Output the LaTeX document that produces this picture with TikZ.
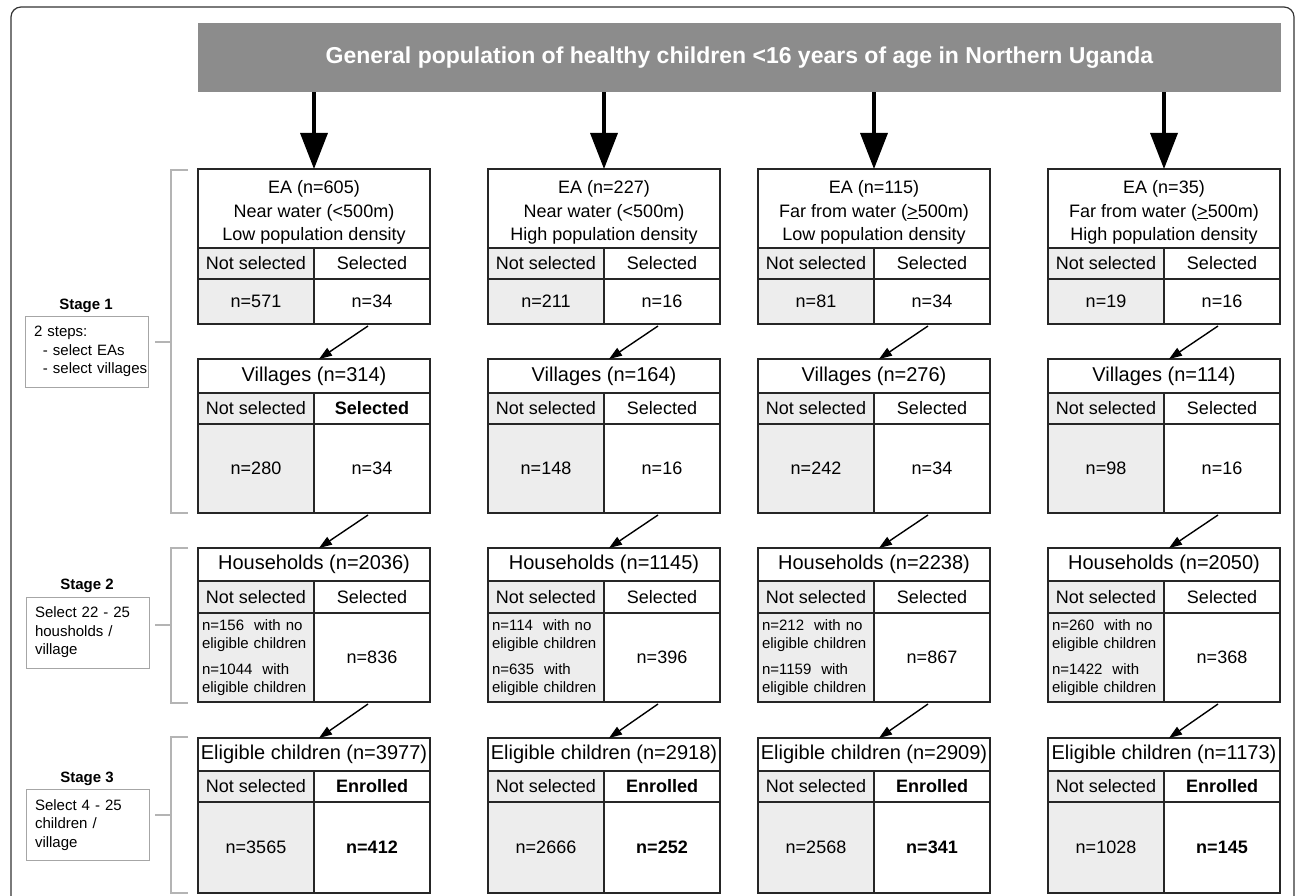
\documentclass[tikz,border=0pt]{standalone}
\usepackage{fontspec}
\setmainfont{Liberation Sans}
\usetikzlibrary{arrows.meta}
\definecolor{barfill}{HTML}{8C8C8C}
\definecolor{nsfill}{HTML}{EDEDED}
\definecolor{brk}{HTML}{B4B4B4}

\begin{document}
\begin{tikzpicture}[x=1pt, y=-1pt,
    box/.style={draw=black!85, line width=1.1pt, inner sep=0pt, outer sep=0pt, anchor=north west},
    head/.style={box, minimum width=232pt, minimum height=#1, align=center, font=\fontsize{20}{24}\selectfont},
    cell/.style={box, minimum width=116pt, minimum height=#1, font=\fontsize{18}{22}\selectfont},
    nscell/.style={fill=nsfill},
    bigarrow/.style={line width=3.5pt, -{Triangle[width=27pt,length=36pt]}},
    smallarrow/.style={line width=1.4pt, -{Triangle[width=9pt,length=13pt]}},
    bracket/.style={draw=brk, line width=1.1pt},
    stagebox/.style={draw=gray!70, line width=0.8pt, text width=105pt, inner xsep=9pt, inner ysep=0pt,
                     minimum height=71pt, align=left, font=\fontsize{15}{18.5}\selectfont},
    stagelab/.style={font=\fontsize{15}{18}\selectfont\bfseries}]
    \useasboundingbox (0,0) rectangle (1295,896);

    % frame
    \draw[black!80, line width=1.2pt, rounded corners=10pt] (11,910) -- (11,7) -- (1294,7) -- (1294,910);

    \node[fill=barfill, minimum width=1083pt, minimum height=69pt, inner sep=0pt, text=white,
          font=\fontsize{23}{27}\selectfont\bfseries] (pop) at (739.5,57.5)
          {General population of healthy children <16 years of age in Northern Uganda};

    % stages
    \node[stagelab] (st1l) at (86,306) {Stage 1};
    \node[stagebox] (st1) at (86.5,351.5) {2 steps:\\\mbox{\hspace*{9pt}- select EAs}\\\mbox{\hspace*{9pt}- select villages}};
    \node[stagelab] (st2l) at (87,586) {Stage 2};
    \node[stagebox] (st2) at (87.5,632.5) {Select 22 - 25\\housholds /\\village};
    \node[stagelab] (st3l) at (87,779) {Stage 3};
    \node[stagebox] (st3) at (87.5,825) {Select 4 - 25\\children /\\village};

    \draw[bracket] (188,170) -- (171,170) -- (171,513) -- (188,513);
    \draw[bracket] (155,342) -- (171,342);
    \draw[bracket] (188,548) -- (171,548) -- (171,703) -- (188,703);
    \draw[bracket] (155,625) -- (171,625);
    \draw[bracket] (188,737) -- (171,737) -- (171,893) -- (188,893);
    \draw[bracket] (155,815) -- (171,815);

    \foreach \col/\xl/\ea/\wat/\den/\ean/\eas/\vn/\vsh/\vns/\vs/\hn/\hno/\hw/\hs/\en/\ens/\ees in {
        1/198/605/{Near water (<500m)}/Low/571/34/314/{\textbf{Selected}}/280/34/2036/156/1044/836/3977/3565/412,
        2/488/227/{Near water (<500m)}/High/211/16/164/{Selected}/148/16/1145/114/635/396/2918/2666/252,
        3/758/115/{Far from water (\underline{>}500m)}/Low/81/34/276/{Selected}/242/34/2238/212/1159/867/2909/2568/341,
        4/1048/35/{Far from water (\underline{>}500m)}/High/19/16/114/{Selected}/98/16/2050/260/1422/368/1173/1028/145}
    {
        \node[head=79pt, font=\fontsize{18}{23.5}\selectfont] (ea\col) at (\xl,169) {\rule{0pt}{21pt}EA (n=\ea)\\\wat\\\den{} population density};
        \node[cell=31pt, nscell] (ea\col-nh) at (ea\col.south west) {Not selected};
        \node[cell=31pt] (ea\col-sh) at (ea\col-nh.north east) {Selected};
        \node[cell=45pt, nscell] (ea\col-nv) at (ea\col-nh.south west) {n=\ean};
        \node[cell=45pt] (ea\col-sv) at (ea\col-sh.south west) {n=\eas};

        \node[head=34pt] (vil\col) at (\xl,359) {Villages (n=\vn)};
        \node[cell=31pt, nscell] (vil\col-nh) at (vil\col.south west) {Not selected};
        \node[cell=31pt] (vil\col-sh) at (vil\col-nh.north east) {\vsh};
        \node[cell=89pt, nscell] (vil\col-nv) at (vil\col-nh.south west) {n=\vns};
        \node[cell=89pt] (vil\col-sv) at (vil\col-sh.south west) {n=\vs};

        \node[head=33pt] (hh\col) at (\xl,548) {Households (n=\hn)};
        \node[cell=32pt, nscell] (hh\col-nh) at (hh\col.south west) {Not selected};
        \node[cell=32pt] (hh\col-sh) at (hh\col-nh.north east) {Selected};
        \node[cell=89pt, nscell, text width=108pt, align=left, font=\fontsize{15}{18}\selectfont] (hh\col-nv) at (hh\col-nh.south west)
            {n=\hno~~with no\\eligible children\\[8pt]n=\hw~~with\\eligible children};
        \node[cell=89pt] (hh\col-sv) at (hh\col-sh.south west) {n=\hs};

        \node[head=33pt] (ec\col) at (\xl,738) {Eligible children (n=\en)};
        \node[cell=31pt, nscell] (ec\col-nh) at (ec\col.south west) {Not selected};
        \node[cell=31pt] (ec\col-sh) at (ec\col-nh.north east) {\textbf{Enrolled}};
        \node[cell=91pt, nscell] (ec\col-nv) at (ec\col-nh.south west) {n=\ens};
        \node[cell=91pt] (ec\col-sv) at (ec\col-sh.south west) {\textbf{n=\ees}};

        \draw[bigarrow] (pop.south -| ea\col.north) -- (ea\col.north);
        \draw[smallarrow] ([xshift=-4pt,yshift=-2pt]ea\col-sv.south) -- ([xshift=5pt]vil\col.north);
        \draw[smallarrow] ([xshift=-4pt,yshift=-2pt]vil\col-sv.south) -- ([xshift=5pt]hh\col.north);
        \draw[smallarrow] ([xshift=-4pt,yshift=-2pt]hh\col-sv.south) -- ([xshift=5pt]ec\col.north);
    }
\end{tikzpicture}
\end{document}
